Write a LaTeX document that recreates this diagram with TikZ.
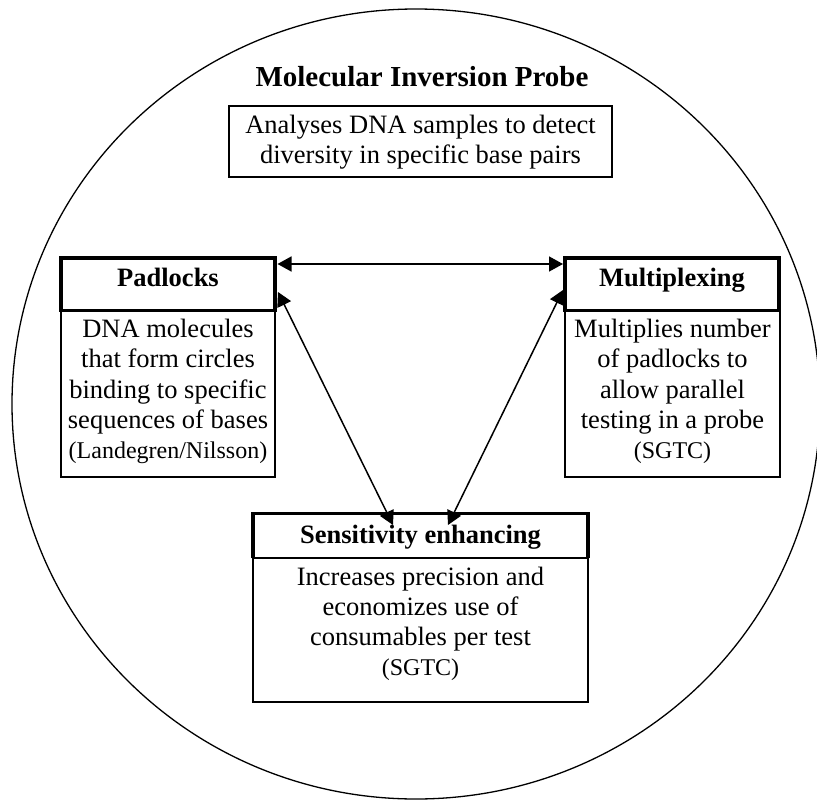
\documentclass[tikz,border=0pt]{standalone}
\usepackage{fontspec}
\setmainfont{Liberation Serif}
\usetikzlibrary{arrows.meta,calc}
\newcommand\boxtxt[4]{\begin{minipage}[c][#2][t]{#1}\centering\fontsize{26.5}{30.5}\selectfont\rule{0pt}{#3}#4\end{minipage}}
\newcommand\smalltxt[1]{{\fontsize{24}{28}\selectfont #1}}
\begin{document}
\begin{tikzpicture}[x=1pt,y=-1pt,
  thinbox/.style={draw,line width=1.3pt,inner sep=0pt,outer sep=0pt,anchor=north west},
  hdrbox/.style={draw,line width=3.5pt,inner sep=0pt,outer sep=0pt,anchor=north west,font=\bfseries},
  link/.style={line width=1.5pt,{Triangle[length=14pt,width=15pt]}-{Triangle[length=14pt,width=15pt]}},
]
\fill[white] (0,0) rectangle (817,803);
\useasboundingbox (0,0) rectangle (817,803);
\draw[line width=1.3pt] (416,404) ellipse [x radius=404, y radius=395];

\node[anchor=base,font=\bfseries\fontsize{29}{33}\selectfont] (title) at (422,86) {Molecular Inversion Probe};

\node[thinbox] (top) at (229,106) {\boxtxt{383pt}{71pt}{27pt}{Analyses DNA samples to detect\\diversity in specific base pairs}};

% Padlocks
\node[hdrbox] (ph) at (61,258) {\boxtxt{214pt}{52.5pt}{28pt}{\bfseries Padlocks}};
\node[thinbox] (pl) at (61,310.5) {\boxtxt{214pt}{166.5pt}{26.5pt}{DNA molecules\\that form circles\\binding to specific\\sequences of bases\\[-1pt]\smalltxt{(Landegren/Nilsson)}}};

% Multiplexing
\node[hdrbox] (mh) at (565,258) {\boxtxt{214pt}{52.5pt}{28pt}{\bfseries Multiplexing}};
\node[thinbox] (ml) at (565,310.5) {\boxtxt{215pt}{166.5pt}{26.5pt}{Multiplies number\\of padlocks to\\allow parallel\\testing in a probe\\[-1pt]\smalltxt{(SGTC)}}};

% Sensitivity
\node[inner sep=0pt,outer sep=0pt,anchor=north west] (sh) at (253,513.5) {\boxtxt{335pt}{44.5pt}{29.5pt}{\bfseries Sensitivity enhancing}};
\draw[line width=3.5pt] (sh.south west) |- (sh.north east) -- (sh.south east);
\node[thinbox] (sl) at (253,558) {\boxtxt{335pt}{144pt}{27pt}{Increases precision and\\[-0.5pt]economizes use of\\[-0.5pt]consumables per test\\[-0.5pt]\smalltxt{(SGTC)}}};

% connectors
\coordinate (pa) at ($(ph.north east)+(2.5,6)$);
\coordinate (ma) at ($(mh.north west)+(-2,6)$);
\draw[link] (pa) -- (ma);
\coordinate (pb) at ($(ph.north east)+(3,34)$);
\coordinate (sa) at ($(sh.north west)+(140,11.5)$);
\draw[link] (pb) -- (sa);
\coordinate (mb) at ($(mh.north west)+(-2,32)$);
\coordinate (sb) at ($(sh.north west)+(195,11.5)$);
\draw[link] (mb) -- (sb);
\end{tikzpicture}
\end{document}
